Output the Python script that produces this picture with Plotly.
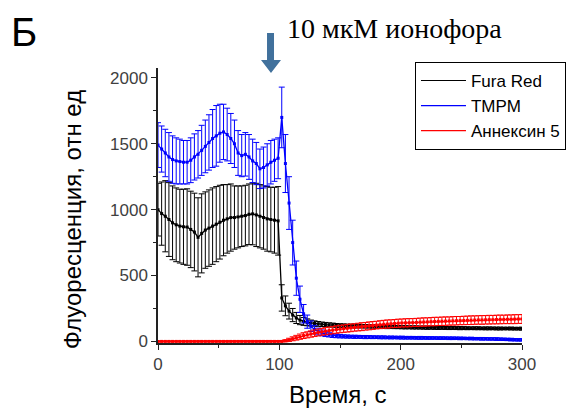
import plotly.graph_objects as go

# time, s
t = list(range(0, 301, 3))

fura_mean = [1000, 970, 950, 925, 900, 885, 875, 870, 868, 850,
             830, 790, 820, 845, 860, 875, 890, 905, 920, 930,
             940, 940, 945, 950, 955, 965, 968, 960, 950, 940,
             930, 925, 920, 915,
             330, 270, 230, 200, 178, 162, 152, 145, 140, 136,
             133, 130, 128, 126, 124, 122, 120,
             119, 118, 118, 117, 116, 115, 115, 114, 113, 112,
             112, 111, 110, 110, 109, 108, 108, 107, 107, 106,
             106, 105, 105, 104, 104, 103, 103, 103, 102, 102,
             102, 101, 101, 101, 100, 100, 100, 100, 99, 99,
             99, 99, 98, 98, 98, 98, 98, 97, 97, 97]
fura_err = [200, 240, 270, 280, 280, 280, 280, 285, 290, 290,
            295, 300, 300, 290, 290, 290, 285, 280, 270, 260,
            255, 240, 235, 230, 230, 230, 235, 240, 240, 240,
            245, 245, 250, 260,
            100, 75, 60, 50, 42, 35, 30, 26, 22, 20,
            18, 17, 16, 15, 15, 14, 14,
            14, 13, 13, 14, 13, 12, 13, 12, 12, 13,
            12, 12, 13, 12, 12, 11, 12, 12, 11, 12,
            12, 11, 12, 12, 11, 11, 12, 11, 11, 12,
            11, 11, 12, 11, 11, 10, 11, 11, 10, 11,
            11, 10, 11, 11, 10, 10, 11, 10, 10, 11]

tmpm_mean = [1490, 1460, 1430, 1400, 1380, 1370, 1365, 1360, 1360, 1375,
             1400, 1420, 1450, 1480, 1510, 1540, 1560, 1580, 1590, 1570,
             1540, 1500, 1430, 1410, 1420, 1400, 1370, 1350, 1310, 1320,
             1340, 1360, 1375, 1390,
             1700, 1350, 1050, 750, 480, 320, 210, 150, 115, 90,
             75, 65, 55, 50, 45, 42, 40,
             38, 37, 36, 35, 35, 34, 33, 33, 32, 32,
             31, 31, 30, 30, 30, 29, 29, 28, 28, 28,
             27, 27, 27, 26, 26, 26, 25, 25, 25, 24,
             24, 24, 23, 23, 22, 22, 21, 21, 20, 20,
             19, 19, 18, 17, 16, 15, 14, 13, 12, 12]
tmpm_err = [170, 175, 180, 185, 180, 175, 170, 165, 165, 170,
            175, 180, 190, 200, 210, 220, 230, 220, 210, 200,
            190, 180, 170, 160, 165, 170, 165, 160, 150, 155,
            160, 165, 160, 155,
            230, 220, 200, 170, 130, 100, 70, 50, 40, 32,
            26, 22, 18, 16, 15, 14, 13,
            12, 12, 11, 12, 11, 11, 12, 11, 11, 10,
            11, 11, 10, 11, 10, 10, 11, 10, 10, 10,
            10, 11, 10, 10, 10, 9, 10, 10, 9, 10,
            10, 9, 10, 9, 9, 10, 9, 9, 10, 9,
            9, 9, 10, 9, 9, 9, 10, 9, 9, 9]

annex_mean = [0] * 34 + [
    0, 5, 12, 20, 28, 36, 44, 50, 56, 62,
    68, 73, 78, 82, 86, 90, 94,
    97, 100, 103, 106, 109, 112, 115, 118, 121, 124,
    127, 130, 132, 134, 136, 138, 140, 141, 142, 143,
    144, 146, 147, 148, 150, 151, 152, 153, 154, 155,
    156, 157, 158, 159, 160, 161, 162, 163, 163, 164,
    165, 165, 166, 167, 167, 168, 168, 169, 170, 170]
annex_err = [3] * 34 + [
    3, 8, 12, 15, 18, 20, 22, 23, 24, 25,
    26, 26, 27, 27, 28, 28, 28,
    28, 29, 29, 28, 29, 30, 29, 30, 30, 29,
    30, 30, 31, 30, 30, 31, 30, 31, 31, 30,
    31, 31, 32, 31, 31, 32, 31, 32, 32, 31,
    32, 32, 31, 32, 32, 33, 32, 32, 33, 32,
    33, 32, 33, 33, 32, 33, 33, 34, 33, 34]

series = [
    ("Fura Red", fura_mean, fura_err, "#000000"),
    ("TMPM", tmpm_mean, tmpm_err, "#0000ff"),
    ("Аннексин 5", annex_mean, annex_err, "#ff0000"),
]

fig = go.Figure()
for name, m, e, c in series:
    fig.add_trace(go.Scatter(
        x=t, y=m, mode="lines+markers", showlegend=False,
        line=dict(color=c, width=1.3),
        marker=dict(color=c, size=3, symbol="square"),
        error_y=dict(type="data", array=e, visible=True, color=c,
                     thickness=1, width=3),
    ))
for name, m, e, c in series:
    fig.add_trace(go.Scatter(
        x=[None], y=[None], mode="lines", name=name,
        line=dict(color=c, width=1.2),
    ))

axis_common = dict(
    showline=True, linecolor="#222222", linewidth=1.5,
    ticks="outside", ticklen=5, tickwidth=1.2, tickcolor="#222222",
    showgrid=False, zeroline=False, mirror=False,
    tickfont=dict(family="Arial, Liberation Sans", size=17, color="#404040"),
)

fig.update_layout(
    width=576, height=409,
    margin=dict(l=158, r=54, t=68, b=66, autoexpand=False),
    paper_bgcolor="white", plot_bgcolor="white",
    xaxis=dict(range=[0, 300], dtick=100, tick0=0,
               minor=dict(dtick=50, ticks="outside", ticklen=3,
                          tickcolor="#222222"),
               **axis_common),
    yaxis=dict(range=[-12, 2075], dtick=500, tick0=0,
               minor=dict(dtick=250, ticks="outside", ticklen=3,
                          tickcolor="#222222"),
               **axis_common),
    legend=dict(x=0.706, y=1.022, xanchor="left", yanchor="top",
                bordercolor="#000000", borderwidth=1, bgcolor="white",
                itemwidth=45,
                font=dict(family="Arial, Liberation Sans", size=17,
                          color="#000000"),
                tracegroupgap=0),
    annotations=[
        dict(text="Б", x=-0.368, y=1.131, xref="paper", yref="paper",
             xanchor="center", yanchor="middle",
             showarrow=False, font=dict(family="Arial, Liberation Sans",
                                         size=40, color="#000000")),
        dict(text="10 мкМ ионофора", x=0.349, y=1.142, xref="paper",
             yref="paper", xanchor="left", yanchor="middle",
             showarrow=False,
             font=dict(family="Liberation Serif, Times New Roman",
                       size=28, color="#000000")),
        dict(text="Флуоресценция, отн ед", x=-0.236, y=0.447,
             xref="paper", yref="paper", textangle=-90, showarrow=False,
             xanchor="center", yanchor="middle",
             font=dict(family="Arial, Liberation Sans", size=24,
                       color="#000000")),
        dict(text="Время, с", x=0.495, y=-0.189, xref="paper",
             yref="paper", showarrow=False, xanchor="center",
             yanchor="middle",
             font=dict(family="Arial, Liberation Sans", size=24,
                       color="#000000")),
    ],
    shapes=[
        dict(type="path", xref="paper", yref="paper",
             path="M 0.2995,1.1273 L 0.3187,1.1273 L 0.3187,1.0291 "
                  "L 0.3379,1.0291 L 0.3104,0.9818 L 0.2830,1.0291 "
                  "L 0.2995,1.0291 Z",
             fillcolor="#41719c", line=dict(width=0)),
    ],
)

fig.write_html("out.html")
